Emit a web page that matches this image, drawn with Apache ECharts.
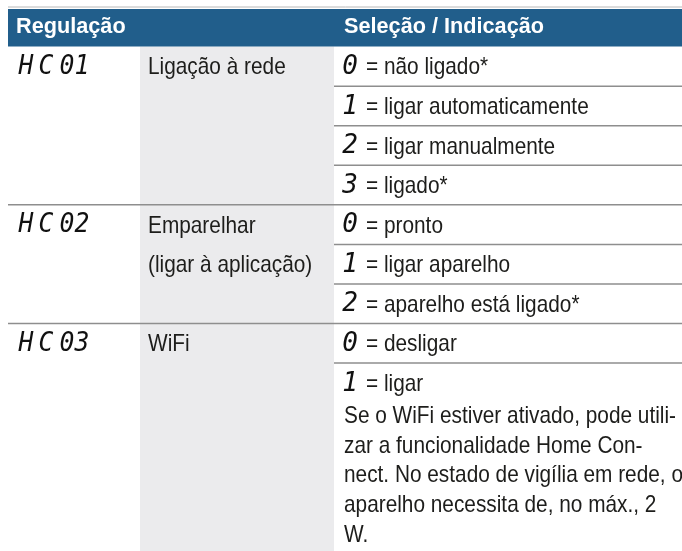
<!DOCTYPE html>
<html><head><meta charset="utf-8">
<script src="https://cdn.jsdelivr.net/npm/echarts@6/dist/echarts.min.js"></script>
<style>html,body{margin:0;padding:0;background:#fff}#c{width:682px;height:551px}</style>
</head><body><div id="c"></div>
<script>
// ---- table content ----
const headers = ['Regulação', 'Seleção / Indicação'];
const settingCodes = ['HC01', 'HC02', 'HC03'];
const settingNames = [['Ligação à rede'], ['Emparelhar', '(ligar à aplicação)'], ['WiFi']];
const optionDigits = [['0', '1', '2', '3'], ['0', '1', '2'], ['0', '1']];
const optionTexts = [
  ['não ligado*', 'ligar automaticamente', 'ligar manualmente', 'ligado*'],
  ['pronto', 'ligar aparelho', 'aparelho está ligado*'],
  ['desligar', 'ligar']
];
const wifiNote = [
  'Se o WiFi estiver ativado, pode utili-',
  'zar a funcionalidade Home Con-',
  'nect. No estado de vigília em rede, o',
  'aparelho necessita de, no máx., 2',
  'W.'
];

// ---- layout / style ----
const COLS = [0, 132, 326, 674];      // column edges on the x axis
const UNIT = 40.125;                   // px per table row unit
const NOTE_STEP = 0.75;                // note line step (row units)
const BODY_FONT = "'Liberation Sans Narrow','Liberation Sans',Arial,sans-serif";
const SEG_FONT = "'DejaVu Sans Mono',monospace";
const BLUE = '#215e8b', GRAY_BG = '#ebebed', RULE = '#8e8e8e', INK = '#1d1d1b';
const CODE_CHAR_X = [18, 38, 59, 74];

const cv = document.createElement('canvas').getContext('2d');
function mw(t, f) { cv.font = f; return cv.measureText(t).width; }
const BODY_SIZE = 24, HEAD_SIZE = 22, SEG_SIZE = 26;
const bodyScale = 332 / mw(wifiNote[0], BODY_SIZE + 'px ' + BODY_FONT);
const headScale = 200 / mw(headers[1], 'bold ' + HEAD_SIZE + 'px ' + BODY_FONT);

// ---- build table items ----
const items = [];
let r = 1;
const groupRows = [];
optionTexts.forEach((opts, g) => {
  const start = r;
  opts.forEach((t, o) => {
    const top = r;
    let h = 1;
    if (g === optionTexts.length - 1 && o === opts.length - 1) h += wifiNote.length * NOTE_STEP;
    items.push({ kind: 'rule', x0: (o === 0 && g > 0) ? COLS[0] : COLS[2], x1: COLS[3], y: top, skip: (g === 0 && o === 0) });
    items.push({ kind: 'digit', x: COLS[2], y: top + 0.5, text: optionDigits[g][o] });
    items.push({ kind: 'opt', x: COLS[2], y: top + 0.5, text: '= ' + t });
    if (h > 1) wifiNote.forEach((line, i) => items.push({ kind: 'note', x: COLS[2], y: top + 0.5 + NOTE_STEP * (i + 1), text: line }));
    r += h;
  });
  groupRows.push(start);
});
const TOTAL = r;
const pre = [
  { kind: 'bg', x0: COLS[1], x1: COLS[2], y0: 1, y1: TOTAL },
  { kind: 'head', x0: COLS[0], x1: COLS[3], y0: 0, y1: 1 },
  { kind: 'topline', x0: COLS[0], x1: COLS[3], y: 0 },
  { kind: 'htext', x: COLS[0], y: 0.5, text: headers[0], pad: 8 },
  { kind: 'htext', x: COLS[2], y: 0.5, text: headers[1], pad: 10 }
];
settingCodes.forEach((c, g) => {
  c.split('').forEach((ch, i) => pre.push({ kind: 'code', x: COLS[0], y: groupRows[g] + 0.5, text: ch, off: CODE_CHAR_X[i] }));
  settingNames[g].forEach((n, i) => pre.push({ kind: 'name', x: COLS[1], y: groupRows[g] + 0.5 + i, text: n }));
});
const all = pre.concat(items).filter(d => !d.skip);

function txt(x, y, s, o) {
  return {
    type: 'text', x: x, y: y, scaleX: o.scale || 1,
    style: {
      text: s, x: 0, y: 0, fill: o.fill || INK, fontSize: o.size, fontFamily: o.family,
      fontWeight: o.weight || 'normal', fontStyle: o.style || 'normal',
      align: o.align || 'left', verticalAlign: 'middle'
    }
  };
}

function renderItem(params, api) {
  const d = all[params.dataIndex];
  switch (d.kind) {
    case 'bg': case 'head': {
      const a = api.coord([d.x0, d.y0]), b = api.coord([d.x1, d.y1]);
      const top = d.kind === 'head' ? a[1] + 2 : a[1];
      return { type: 'rect', shape: { x: a[0], y: top, width: b[0] - a[0], height: b[1] - top },
        style: { fill: d.kind === 'head' ? BLUE : GRAY_BG } };
    }
    case 'topline': case 'rule': {
      const a = api.coord([d.x0, d.y]), b = api.coord([d.x1, d.y]);
      const thin = d.kind === 'topline';
      return { type: 'line', shape: { x1: a[0], y1: a[1], x2: b[0] + 10, y2: b[1] },
        style: { stroke: thin ? '#b8b8b8' : RULE, lineWidth: thin ? 1 : 1.5 } };
    }
    case 'htext': {
      const p = api.coord([d.x, d.y]);
      return txt(p[0] + d.pad, p[1] + 0.5, d.text, { size: HEAD_SIZE, family: BODY_FONT, weight: 'bold', fill: '#ffffff', scale: headScale });
    }
    case 'code': {
      const p = api.coord([d.x, d.y]);
      return txt(p[0] + d.off, p[1] + 1, d.text, { size: SEG_SIZE, family: SEG_FONT, style: 'italic', align: 'center', fill: '#111', scale: 0.95 });
    }
    case 'digit': {
      const p = api.coord([d.x, d.y]);
      return txt(p[0] + 16, p[1] + 1, d.text, { size: SEG_SIZE, family: SEG_FONT, style: 'italic', align: 'center', fill: '#111' });
    }
    case 'opt': {
      const p = api.coord([d.x, d.y]);
      return txt(p[0] + 32, p[1] + 1.5, d.text, { size: BODY_SIZE, family: BODY_FONT, scale: bodyScale });
    }
    case 'note': {
      const p = api.coord([d.x, d.y]);
      return txt(p[0] + 10, p[1] + 4, d.text, { size: BODY_SIZE, family: BODY_FONT, scale: bodyScale });
    }
    case 'name': {
      const p = api.coord([d.x, d.y]);
      return txt(p[0] + 8, p[1] + 1.5, d.text, { size: BODY_SIZE, family: BODY_FONT, scale: bodyScale });
    }
  }
}

const chart = echarts.init(document.getElementById('c'), null, { renderer: 'canvas' });
chart.setOption({
  animation: false,
  grid: { left: 8, top: 7, width: COLS[3], height: TOTAL * UNIT, containLabel: false },
  xAxis: { type: 'value', min: 0, max: COLS[3], show: false },
  yAxis: { type: 'value', min: 0, max: TOTAL, inverse: true, show: false },
  series: [{
    type: 'custom', renderItem: renderItem, clip: false,
    data: all.map(d => [d.x !== undefined ? d.x : d.x0, d.y !== undefined ? d.y : d.y0])
  }]
});
</script></body></html>
